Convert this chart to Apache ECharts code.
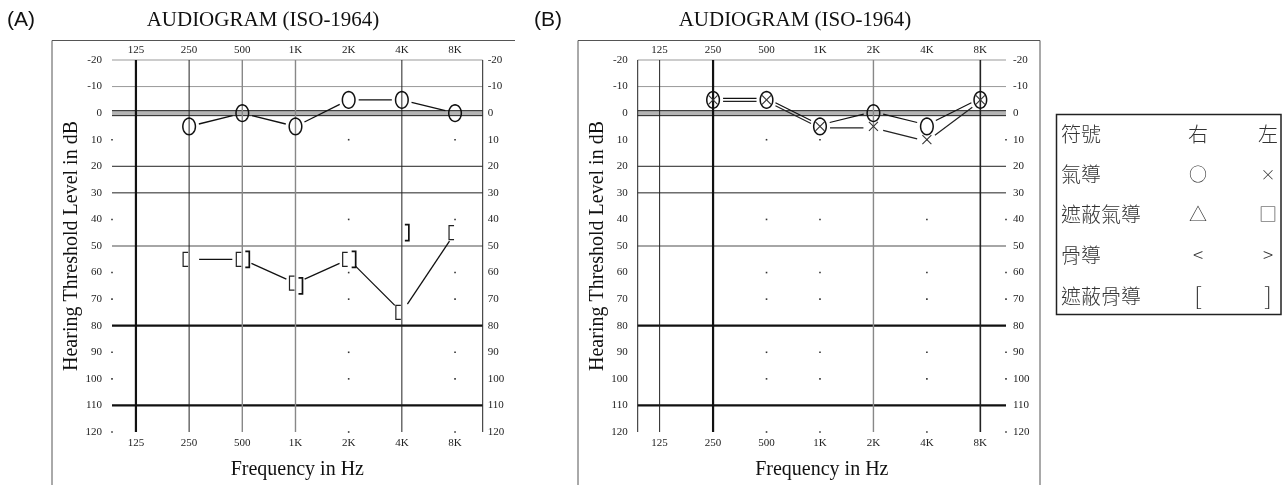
<!DOCTYPE html>
<html><head><meta charset="utf-8">
<script src="https://cdn.jsdelivr.net/npm/echarts@6/dist/echarts.min.js"></script>
<style>html,body{margin:0;padding:0;background:#fff}#c{width:1285px;height:485px}</style>
</head><body><div id="c"></div>
<script>
// ---------- DATA ----------
const freqLabels = ['125', '250', '500', '1K', '2K', '4K', '8K'];
const dbTicks = [-20, -10, 0, 10, 20, 30, 40, 50, 60, 70, 80, 90, 100, 110, 120];
// Panel A (index = octave position of freqLabels)
const aRightAir = [null, 5, 0, 5, -5, -5, 0];
const aRightMaskedBone = [null, 55, 55, 64, 55, 75, 45];
const aLeftMaskedBone = [null, null, 55, 65, 55, 45, null];
// Panel B
const bRightAir = [null, -5, -5, 5, 0, 5, -5];
const bLeftAir = [null, -5, -5, 5, 5, 10, -5];
// Legend table
const legendNames = ['符號', '氣導', '遮蔽氣導', '骨導', '遮蔽骨導'];
const legendRightSym = ['右', '○', '△', '<', '['];
const legendLeftSym = ['左', '×', '□', '>', ']'];
const panelTitle = 'AUDIOGRAM (ISO-1964)';
const panelTags = ['(A)', '(B)'];

// ---------- STYLE ----------
const SERIF = "'Liberation Serif','Times New Roman',serif";
const SANS = "'Liberation Sans',Arial,sans-serif";
const CJK = "'Noto Sans CJK TC','Noto Sans CJK SC',sans-serif";
const lineStyles = {
  thick: { stroke: '#111', lineWidth: 2.2 },
  solid: { stroke: '#222', lineWidth: 1 },
  solid2: { stroke: '#222', lineWidth: 1.6 },
  grey: { stroke: '#888', lineWidth: 1.4 },
  light: { stroke: '#999', lineWidth: 1 }
};
const hKinds = { '-20': 'light', '-10': 'light', '0': 'double', '10': 'dot', '20': 'solid', '30': 'solid',
  '40': 'dot', '50': 'grey', '60': 'dot', '70': 'dot', '80': 'thick', '90': 'dot', '100': 'dot', '110': 'thick', '120': 'dot' };
const panels = [
  { left: 112, width: 370.7, xmin: -0.45, xmax: 6.52, vKinds: ['thick', 'solid', 'grey', 'grey', 'dot', 'solid', 'dot'], edge: 'right', rMargin: 5 },
  { left: 637.7, width: 368.3, xmin: -0.41, xmax: 6.48, vKinds: ['solid', 'thick', 'dot', 'dot', 'grey', 'dot', 'solid2'], edge: 'left', rMargin: 7 }
];
const GRID_TOP = 60, GRID_H = 374;

function pts(arr) { const r = []; arr.forEach((v, i) => { if (v !== null) r.push([i, v]); }); return r; }
function segs(arr) {
  const p = pts(arr), r = [];
  for (let i = 0; i < p.length - 1; i++) r.push([p[i][0], p[i][1], p[i + 1][0], p[i + 1][1]]);
  return r;
}

const chart = echarts.init(document.getElementById('c'));
const grids = [], xAxes = [], yAxes = [], series = [];

panels.forEach((P, g) => {
  grids.push({ left: P.left, top: GRID_TOP, width: P.width, height: GRID_H });
  const xl = { type: 'value', gridIndex: g, min: P.xmin, max: P.xmax,
    axisLine: { show: false }, axisTick: { show: false }, splitLine: { show: false },
    axisLabel: { customValues: [0, 1, 2, 3, 4, 5, 6], formatter: v => freqLabels[Math.round(v)] || '',
      fontFamily: SERIF, fontSize: 11, color: '#222' } };
  xAxes.push(Object.assign({}, xl, { position: 'bottom', name: 'Frequency in Hz', nameLocation: 'middle', nameGap: 28,
    nameTextStyle: { fontFamily: SERIF, fontSize: 20, color: '#111' },
    axisLabel: Object.assign({}, xl.axisLabel, { margin: 6 }) }));
  xAxes.push(Object.assign({}, xl, { position: 'top', axisLabel: Object.assign({}, xl.axisLabel, { margin: 4 }) }));
  const yl = { type: 'value', gridIndex: g, min: -20, max: 120, interval: 10, inverse: true,
    axisLine: { show: false }, axisTick: { show: false }, splitLine: { show: false } };
  yAxes.push(Object.assign({}, yl, { position: 'left', name: 'Hearing Threshold Level in dB', nameLocation: 'middle', nameGap: 27,
    nameTextStyle: { fontFamily: SERIF, fontSize: 20, color: '#111' },
    axisLabel: { fontFamily: SERIF, fontSize: 11, color: '#222', margin: 10 } }));
  yAxes.push(Object.assign({}, yl, { position: 'right',
    axisLabel: { fontFamily: SERIF, fontSize: 11, color: '#222', margin: P.rMargin } }));

  const xi = 2 * g, yi = 2 * g;
  // horizontal grid lines
  series.push({ type: 'custom', xAxisIndex: xi, yAxisIndex: yi, z: 1, silent: true,
    data: dbTicks.map(v => [0, v]),
    renderItem: (params, api) => {
      const cs = params.coordSys; const db = api.value(1); const y = api.coord([0, db])[1];
      const k = hKinds[String(db)]; const x1 = cs.x, x2 = cs.x + cs.width;
      if (k === 'dot') return null;
      if (k === 'double') return { type: 'group', children: [
        { type: 'rect', shape: { x: x1, y: y - 2.5, width: x2 - x1, height: 5 }, style: { fill: '#b4b4b4' } },
        { type: 'line', shape: { x1: x1, y1: y - 2.5, x2: x2, y2: y - 2.5 }, style: { stroke: '#222', lineWidth: 1 } },
        { type: 'line', shape: { x1: x1, y1: y + 2.5, x2: x2, y2: y + 2.5 }, style: { stroke: '#222', lineWidth: 1 } }] };
      return { type: 'line', shape: { x1: x1, y1: y, x2: x2, y2: y }, style: lineStyles[k] };
    } });
  // vertical grid lines (+ edge line)
  const vData = freqLabels.map((f, i) => [i, P.vKinds[i]]);
  vData.push([P.edge === 'right' ? P.xmax : P.xmin, 'solid']);
  series.push({ type: 'custom', xAxisIndex: xi, yAxisIndex: yi, z: 2, silent: true,
    data: vData.map(d => [d[0], 0]),
    renderItem: (params, api) => {
      const k = vData[params.dataIndex][1];
      if (k === 'dot') return null;
      const x = api.coord([api.value(0), 0])[0];
      const y1 = api.coord([0, -20])[1], y2 = api.coord([0, 120])[1];
      return { type: 'line', shape: { x1: x, y1: y1, x2: x, y2: y2 }, style: lineStyles[k] };
    } });
  // dots at dotted intersections
  const dotCols = freqLabels.map((f, i) => i).filter(i => P.vKinds[i] === 'dot');
  dotCols.push(P.edge === 'right' ? P.xmin : P.xmax);
  const dotRows = dbTicks.filter(v => hKinds[String(v)] === 'dot');
  const dots = [];
  dotCols.forEach(c => dotRows.forEach(r => dots.push([c, r])));
  series.push({ type: 'custom', xAxisIndex: xi, yAxisIndex: yi, z: 3, silent: true, data: dots,
    renderItem: (params, api) => {
      const p = api.coord([api.value(0), api.value(1)]);
      return { type: 'rect', shape: { x: p[0] - 0.8, y: p[1] - 0.8, width: 1.6, height: 1.6 }, style: { fill: '#333' } };
    } });
});

// connecting lines (with gaps near markers)
function segSeries(g, arr, gap, offset, color, width) {
  return { type: 'custom', xAxisIndex: 2 * g, yAxisIndex: 2 * g, z: 5, silent: true,
    data: segs(arr), encode: { x: [0, 2], y: [1, 3] },
    renderItem: (params, api) => {
      const a = api.coord([api.value(0), api.value(1)]), b = api.coord([api.value(2), api.value(3)]);
      const dx = b[0] - a[0], dy = b[1] - a[1], L = Math.sqrt(dx * dx + dy * dy);
      const ux = dx / L, uy = dy / L;
      return { type: 'line', shape: { x1: a[0] + ux * gap, y1: a[1] + uy * gap + offset, x2: b[0] - ux * gap, y2: b[1] - uy * gap + offset },
        style: { stroke: color, lineWidth: width } };
    } };
}
function ellipsePts(cx, cy, rx, ry) {
  const r = []; for (let i = 0; i < 36; i++) { const t = i / 36 * Math.PI * 2; r.push([cx + rx * Math.cos(t), cy + ry * Math.sin(t)]); } return r;
}
const markerDraw = {
  circle: (p) => ({ type: 'polygon', shape: { points: ellipsePts(p[0], p[1], 6.3, 8.3) }, style: { stroke: '#111', lineWidth: 1.5, fill: null } }),
  cross: (p) => ({ type: 'group', children: [
    { type: 'line', shape: { x1: p[0] - 4.5, y1: p[1] - 4.5, x2: p[0] + 4.5, y2: p[1] + 4.5 }, style: { stroke: '#333', lineWidth: 1.1 } },
    { type: 'line', shape: { x1: p[0] - 4.5, y1: p[1] + 4.5, x2: p[0] + 4.5, y2: p[1] - 4.5 }, style: { stroke: '#333', lineWidth: 1.1 } }] }),
  bracketL: (p) => ({ type: 'polyline', shape: { points: [[p[0] - 1, p[1] - 7], [p[0] - 6, p[1] - 7], [p[0] - 6, p[1] + 7], [p[0] - 1, p[1] + 7]] }, style: { stroke: '#222', lineWidth: 1.2, fill: null } }),
  bracketR: (p) => ({ type: 'polyline', shape: { points: [[p[0] + 3, p[1] - 8], [p[0] + 7, p[1] - 8], [p[0] + 7, p[1] + 8], [p[0] + 3, p[1] + 8]] }, style: { stroke: '#111', lineWidth: 1.7, fill: null } })
};
function markerSeries(g, arr, kind) {
  return { type: 'custom', xAxisIndex: 2 * g, yAxisIndex: 2 * g, z: 6, silent: true, data: pts(arr),
    renderItem: (params, api) => markerDraw[kind](api.coord([api.value(0), api.value(1)])) };
}
series.push(segSeries(0, aRightAir, 10, 0, '#111', 1.3));
series.push(segSeries(0, aRightMaskedBone, 10, 0, '#111', 1.3));
series.push(markerSeries(0, aRightAir, 'circle'));
series.push(markerSeries(0, aRightMaskedBone, 'bracketL'));
series.push(markerSeries(0, aLeftMaskedBone, 'bracketR'));
series.push(segSeries(1, bRightAir, 10, -1.5, '#111', 1.2));
series.push(segSeries(1, bLeftAir, 10, 1.5, '#222', 1.2));
series.push(markerSeries(1, bRightAir, 'circle'));
series.push(markerSeries(1, bLeftAir, 'cross'));

// ---------- graphic: titles, frames, legend ----------
const graphic = [];
const frames = [
  { x1: 52, x2: 515, right: false, titleX: 263, tagX: 7 },
  { x1: 578, x2: 1040, right: true, titleX: 795, tagX: 534 }
];
frames.forEach((f, i) => {
  graphic.push({ type: 'polyline', silent: true, shape: { points: f.right ? [[f.x1, 485], [f.x1, 40.5], [f.x2, 40.5], [f.x2, 485]] : [[f.x1, 485], [f.x1, 40.5], [f.x2, 40.5]] },
    style: { stroke: '#555', lineWidth: 1, fill: null } });
  graphic.push({ type: 'text', x: f.titleX, y: 20, style: { text: panelTitle, font: '21px ' + SERIF, fill: '#111', textAlign: 'center', textVerticalAlign: 'middle' } });
  graphic.push({ type: 'text', x: f.tagX, y: 20, style: { text: panelTags[i], font: '21px ' + SANS, fill: '#111', textAlign: 'left', textVerticalAlign: 'middle' } });
});
graphic.push({ type: 'rect', shape: { x: 1056.5, y: 114.5, width: 224.5, height: 200 }, style: { stroke: '#222', lineWidth: 1.5, fill: '#fff' } });
const rowY = [134, 174, 214, 255, 296];
function symFont(i, s) {
  if (i === 0) return '300 20px ' + CJK;
  if (s === '[' || s === ']') return '300 24px ' + CJK;
  if (s === '<' || s === '>') return '300 19px ' + CJK;
  if (s === '×') return '300 15px ' + CJK;
  return '300 18px ' + CJK;
}
legendNames.forEach((n, i) => {
  graphic.push({ type: 'text', x: 1061, y: rowY[i], style: { text: n, font: '300 20px ' + CJK, fill: '#333', textAlign: 'left', textVerticalAlign: 'middle' } });
  graphic.push({ type: 'text', x: 1198, y: rowY[i], style: { text: legendRightSym[i], font: symFont(i, legendRightSym[i]), fill: '#333', textAlign: 'center', textVerticalAlign: 'middle' } });
  graphic.push({ type: 'text', x: 1268, y: rowY[i], style: { text: legendLeftSym[i], font: symFont(i, legendLeftSym[i]), fill: '#333', textAlign: 'center', textVerticalAlign: 'middle' } });
});

chart.setOption({ animation: false, backgroundColor: '#fff', grid: grids, xAxis: xAxes, yAxis: yAxes, series: series, graphic: graphic });
</script></body></html>
